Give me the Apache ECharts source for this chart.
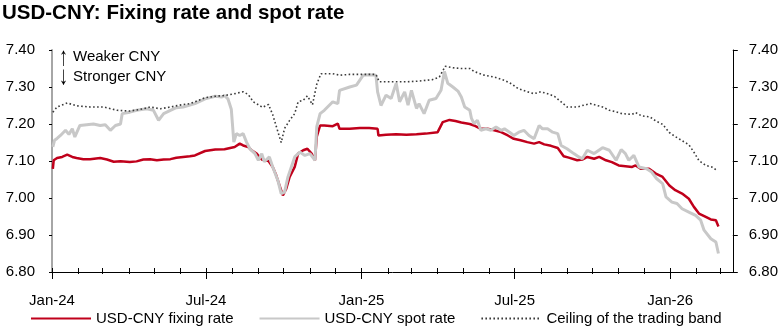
<!DOCTYPE html>
<html>
<head>
<meta charset="utf-8">
<script src="https://cdn.jsdelivr.net/npm/echarts@6/dist/echarts.min.js"></script>
<style>
  html, body { margin: 0; padding: 0; background: #fff; }
  #chart { width: 781px; height: 328px; }
</style>
</head>
<body>
<div id="chart"></div>
<script>
// USD-CNY fixing rate (daily, sampled)
const fixingDates = ['2024-01-02','2024-01-03','2024-01-07','2024-01-13','2024-01-19','2024-01-25','2024-01-30','2024-02-07','2024-02-15','2024-02-27','2024-03-06','2024-03-14','2024-03-22','2024-04-02','2024-04-10','2024-04-18','2024-04-26','2024-05-04','2024-05-12','2024-05-20','2024-05-27','2024-06-04','2024-06-12','2024-06-18','2024-06-30','2024-07-12','2024-07-23','2024-08-04','2024-08-10','2024-08-14','2024-08-20','2024-08-24','2024-08-30','2024-09-05','2024-09-13','2024-09-18','2024-09-22','2024-09-26','2024-09-30','2024-10-04','2024-10-08','2024-10-14','2024-10-18','2024-10-24','2024-10-29','2024-11-03','2024-11-07','2024-11-09','2024-11-13','2024-11-18','2024-11-20','2024-11-28','2024-12-04','2024-12-06','2024-12-18','2024-12-30','2025-01-10','2025-01-20','2025-01-21','2025-01-30','2025-02-11','2025-02-23','2025-03-07','2025-03-18','2025-04-01','2025-04-07','2025-04-15','2025-04-22','2025-04-29','2025-05-09','2025-05-14','2025-05-22','2025-05-30','2025-06-07','2025-06-15','2025-06-23','2025-06-30','2025-07-08','2025-07-16','2025-07-24','2025-07-30','2025-08-05','2025-08-13','2025-08-21','2025-08-28','2025-09-03','2025-09-13','2025-09-19','2025-09-25','2025-10-03','2025-10-09','2025-10-17','2025-10-24','2025-11-01','2025-11-09','2025-11-17','2025-11-21','2025-11-27','2025-12-07','2025-12-15','2025-12-23','2025-12-31','2026-01-07','2026-01-15','2026-01-23','2026-01-29','2026-02-04','2026-02-12','2026-02-18','2026-02-24','2026-02-27'];
const fixingValues = [7.079,7.102,7.108,7.111,7.117,7.111,7.108,7.105,7.105,7.108,7.104,7.098,7.099,7.097,7.099,7.104,7.105,7.102,7.104,7.105,7.109,7.111,7.113,7.115,7.127,7.131,7.132,7.138,7.147,7.142,7.138,7.129,7.120,7.104,7.100,7.084,7.062,7.034,7.007,7.025,7.057,7.084,7.120,7.129,7.133,7.120,7.102,7.165,7.196,7.196,7.192,7.194,7.201,7.187,7.187,7.189,7.189,7.187,7.169,7.171,7.172,7.171,7.172,7.174,7.178,7.205,7.211,7.208,7.204,7.200,7.196,7.187,7.187,7.183,7.178,7.169,7.160,7.156,7.151,7.147,7.151,7.145,7.141,7.135,7.113,7.109,7.102,7.104,7.111,7.106,7.111,7.102,7.097,7.088,7.086,7.084,7.088,7.079,7.079,7.066,7.057,7.034,7.021,7.012,6.998,6.976,6.958,6.949,6.942,6.940,6.923];

// USD-CNY onshore spot rate
const spotDates = ['2024-01-02','2024-01-04','2024-01-07','2024-01-11','2024-01-17','2024-01-21','2024-01-25','2024-01-28','2024-02-03','2024-02-11','2024-02-19','2024-02-27','2024-03-04','2024-03-10','2024-03-16','2024-03-22','2024-03-24','2024-04-02','2024-04-10','2024-04-22','2024-04-30','2024-05-06','2024-05-12','2024-05-20','2024-05-27','2024-06-04','2024-06-12','2024-06-18','2024-06-30','2024-07-12','2024-07-20','2024-07-23','2024-07-27','2024-07-31','2024-08-03','2024-08-06','2024-08-10','2024-08-14','2024-08-18','2024-08-22','2024-08-28','2024-09-01','2024-09-05','2024-09-08','2024-09-14','2024-09-18','2024-09-24','2024-09-28','2024-10-02','2024-10-06','2024-10-10','2024-10-14','2024-10-20','2024-10-26','2024-11-01','2024-11-07','2024-11-09','2024-11-13','2024-11-18','2024-11-20','2024-11-28','2024-12-04','2024-12-06','2024-12-18','2024-12-26','2025-01-03','2025-01-10','2025-01-18','2025-01-20','2025-01-24','2025-01-30','2025-02-05','2025-02-11','2025-02-15','2025-02-21','2025-02-25','2025-03-01','2025-03-07','2025-03-10','2025-03-16','2025-03-22','2025-03-30','2025-04-05','2025-04-09','2025-04-13','2025-04-19','2025-04-25','2025-04-29','2025-05-03','2025-05-09','2025-05-11','2025-05-14','2025-05-18','2025-05-22','2025-05-28','2025-06-03','2025-06-09','2025-06-15','2025-06-19','2025-06-25','2025-06-30','2025-07-06','2025-07-12','2025-07-18','2025-07-24','2025-07-30','2025-08-03','2025-08-09','2025-08-15','2025-08-21','2025-08-25','2025-09-01','2025-09-09','2025-09-15','2025-09-19','2025-09-25','2025-10-03','2025-10-13','2025-10-21','2025-10-29','2025-11-04','2025-11-09','2025-11-13','2025-11-19','2025-11-25','2025-12-04','2025-12-10','2025-12-16','2025-12-23','2025-12-27','2026-01-03','2026-01-09','2026-01-15','2026-01-23','2026-01-31','2026-02-06','2026-02-10','2026-02-18','2026-02-24','2026-02-27'];
const spotValues = [7.138,7.156,7.161,7.169,7.183,7.172,7.187,7.165,7.196,7.198,7.200,7.196,7.198,7.183,7.196,7.200,7.228,7.232,7.237,7.241,7.237,7.210,7.228,7.237,7.244,7.246,7.251,7.255,7.268,7.275,7.273,7.277,7.268,7.240,7.151,7.174,7.169,7.174,7.151,7.133,7.120,7.102,7.120,7.098,7.111,7.084,7.048,7.012,7.016,7.057,7.084,7.111,7.124,7.115,7.120,7.102,7.192,7.228,7.237,7.241,7.260,7.255,7.291,7.300,7.305,7.332,7.333,7.332,7.287,7.250,7.278,7.269,7.310,7.260,7.287,7.251,7.291,7.242,7.255,7.228,7.264,7.269,7.291,7.342,7.310,7.300,7.289,7.273,7.246,7.237,7.215,7.201,7.210,7.183,7.187,7.183,7.192,7.183,7.187,7.178,7.169,7.178,7.183,7.169,7.160,7.196,7.187,7.187,7.178,7.174,7.142,7.133,7.120,7.111,7.106,7.129,7.120,7.136,7.129,7.102,7.131,7.120,7.102,7.115,7.084,7.079,7.070,7.052,7.039,7.003,6.989,6.985,6.971,6.962,6.953,6.940,6.913,6.890,6.881,6.850];

// Ceiling of the trading band
const ceilingDates = ['2024-01-02','2024-01-07','2024-01-19','2024-01-30','2024-02-15','2024-03-02','2024-03-18','2024-04-02','2024-04-18','2024-04-26','2024-05-08','2024-05-20','2024-05-31','2024-06-12','2024-06-18','2024-06-30','2024-07-12','2024-07-23','2024-08-04','2024-08-14','2024-08-20','2024-08-26','2024-09-01','2024-09-06','2024-09-13','2024-09-18','2024-09-24','2024-09-28','2024-10-02','2024-10-08','2024-10-14','2024-10-18','2024-10-24','2024-10-29','2024-11-04','2024-11-09','2024-11-14','2024-11-28','2024-12-06','2024-12-18','2024-12-30','2025-01-10','2025-01-18','2025-01-22','2025-02-07','2025-02-23','2025-03-10','2025-03-26','2025-04-03','2025-04-10','2025-04-19','2025-04-29','2025-05-09','2025-05-14','2025-05-26','2025-06-07','2025-06-19','2025-06-27','2025-07-05','2025-07-16','2025-07-24','2025-08-01','2025-08-09','2025-08-17','2025-08-25','2025-09-01','2025-09-13','2025-09-21','2025-09-29','2025-10-05','2025-10-13','2025-10-21','2025-10-29','2025-11-05','2025-11-17','2025-11-21','2025-11-28','2025-12-08','2025-12-15','2025-12-23','2025-12-31','2026-01-07','2026-01-15','2026-01-23','2026-01-29','2026-02-04','2026-02-12','2026-02-19','2026-02-25'];
const ceilingValues = [7.232,7.246,7.257,7.249,7.246,7.246,7.237,7.235,7.241,7.246,7.241,7.246,7.251,7.255,7.260,7.271,7.275,7.277,7.282,7.287,7.280,7.260,7.252,7.245,7.253,7.225,7.180,7.150,7.188,7.210,7.228,7.260,7.264,7.276,7.252,7.307,7.336,7.336,7.332,7.334,7.334,7.334,7.334,7.314,7.314,7.314,7.316,7.320,7.327,7.356,7.352,7.350,7.350,7.342,7.332,7.327,7.318,7.309,7.296,7.287,7.282,7.287,7.282,7.275,7.260,7.246,7.246,7.251,7.255,7.251,7.246,7.237,7.233,7.228,7.226,7.231,7.222,7.219,7.208,7.199,7.177,7.166,7.155,7.144,7.124,7.101,7.088,7.084,7.075];

// Axis settings
const axisStart = '2024-01-01';
const axisEnd = '2026-03-16';
const yTicks = [6.80, 6.90, 7.00, 7.10, 7.20, 7.30, 7.40];
const monthNames = ['Jan','Feb','Mar','Apr','May','Jun','Jul','Aug','Sep','Oct','Nov','Dec'];

// Daily category list spanning the axis
const days = [];
for (let t = Date.parse(axisStart + 'T00:00:00Z'); t <= Date.parse(axisEnd + 'T00:00:00Z'); t += 86400000) {
  days.push(new Date(t).toISOString().slice(0, 10));
}
const isMonthStart = (i, v) => v.slice(8) === '01';
const isHalfYear = (i, v) => v.slice(5) === '01-01' || v.slice(5) === '07-01';
const fmtMonth = v => monthNames[+v.slice(5, 7) - 1] + '-' + v.slice(2, 4);

const pairs = (d, v) => d.map((x, i) => [x, v[i]]);

const SANS = '"Liberation Sans", Arial, sans-serif';

const chart = echarts.init(document.getElementById('chart'), null, { renderer: 'canvas' });

const baseX = {
  type: 'category',
  data: days,
  boundaryGap: false,
  position: 'bottom',
  axisLine: { show: false },
  axisLabel: { show: false },
  splitLine: { show: false },
  axisPointer: { show: false }
};

chart.setOption({
  animation: false,
  backgroundColor: '#ffffff',
  title: {
    text: 'USD-CNY: Fixing rate and spot rate',
    left: 2,
    top: 3,
    padding: 0,
    textStyle: { fontFamily: SANS, fontSize: 20.5, fontWeight: 'bold', color: '#000' }
  },
  grid: { left: 52, right: 47, top: 50, bottom: 56, containLabel: false },
  legend: {
    left: 30,
    top: 311,
    padding: 0,
    itemWidth: 60,
    itemHeight: 14,
    itemGap: 25,
    itemStyle: { opacity: 0 },
    textStyle: { fontFamily: SANS, fontSize: 15, color: '#000' },
    data: ['USD-CNY fixing rate', 'USD-CNY spot rate', 'Ceiling of the trading band']
  },
  xAxis: [
    Object.assign({}, baseX, {
      axisLine: { show: true, lineStyle: { color: '#000', width: 1 } },
      axisTick: { show: true, interval: isHalfYear, inside: false, length: 7, lineStyle: { color: '#000' } },
      axisLabel: {
        show: true, interval: isHalfYear, formatter: fmtMonth, margin: 21,
        fontFamily: SANS, fontSize: 15, color: '#000'
      }
    }),
    Object.assign({}, baseX, {
      axisTick: { show: true, interval: isMonthStart, inside: true, length: 4, lineStyle: { color: '#000' } }
    }),
    Object.assign({}, baseX, {
      axisTick: { show: true, interval: isMonthStart, inside: false, length: 2, lineStyle: { color: '#000' } }
    })
  ],
  yAxis: [
    {
      type: 'value', min: yTicks[0], max: yTicks[yTicks.length - 1], interval: 0.1,
      position: 'left',
      axisLine: { show: true, lineStyle: { color: '#a6a6a6', width: 2 } },
      axisTick: { show: true, length: 3, lineStyle: { color: '#000' } },
      axisLabel: { margin: 17, formatter: v => v.toFixed(2), fontFamily: SANS, fontSize: 15, color: '#000' },
      splitLine: { show: false }
    },
    {
      type: 'value', min: yTicks[0], max: yTicks[yTicks.length - 1], interval: 0.1,
      position: 'right',
      axisLine: { show: true, lineStyle: { color: '#000', width: 1 } },
      axisTick: { show: true, length: 5, lineStyle: { color: '#000' } },
      axisLabel: { margin: 16, formatter: v => v.toFixed(2), fontFamily: SANS, fontSize: 15, color: '#000' },
      splitLine: { show: false }
    }
  ],
  graphic: [
    { type: 'text', x: 63.5, y: 58, scaleX: 1.2, scaleY: 1.75,
      style: { text: '↑', font: '15px ' + SANS, fill: '#000', align: 'center', verticalAlign: 'middle' } },
    { type: 'text', x: 63.5, y: 77, scaleX: 1.2, scaleY: 1.75,
      style: { text: '↓', font: '15px ' + SANS, fill: '#000', align: 'center', verticalAlign: 'middle' } },
    { type: 'text', x: 73, y: 49, style: { text: 'Weaker CNY', font: '15px ' + SANS, fill: '#000', verticalAlign: 'top' } },
    { type: 'text', x: 73, y: 69, style: { text: 'Stronger CNY', font: '15px ' + SANS, fill: '#000', verticalAlign: 'top' } }
  ],
  series: [
    {
      name: 'USD-CNY fixing rate', type: 'line', xAxisIndex: 0, yAxisIndex: 0,
      data: pairs(fixingDates, fixingValues), showSymbol: false, symbol: 'none',
      lineStyle: { color: '#c0001b', width: 2.5 }, itemStyle: { color: '#c0001b' }
    },
    {
      name: 'USD-CNY spot rate', type: 'line', xAxisIndex: 0, yAxisIndex: 0,
      data: pairs(spotDates, spotValues), showSymbol: false, symbol: 'none',
      lineStyle: { color: '#c8c8c8', width: 3 }, itemStyle: { color: '#c8c8c8' }
    },
    {
      name: 'Ceiling of the trading band', type: 'line', xAxisIndex: 0, yAxisIndex: 0,
      data: pairs(ceilingDates, ceilingValues), showSymbol: false, symbol: 'none',
      lineStyle: { color: '#3a3a3a', width: 1.6, type: [1.6, 2.4] }, itemStyle: { color: '#3a3a3a' }
    }
  ]
});
</script>
</body>
</html>
